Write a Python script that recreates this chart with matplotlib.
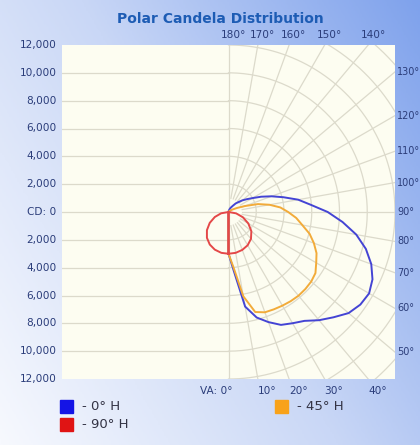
import numpy as np
import matplotlib
matplotlib.use("Agg")
import matplotlib.pyplot as plt
from matplotlib.colors import LinearSegmentedColormap
from matplotlib.patches import Rectangle

# vertical angles (deg from nadir) and candela values
angles = np.arange(0, 185, 5)
cd_0h = [3000, 4200, 6900, 7850, 8420, 8950, 9230, 9550, 10150, 10700,
         11300, 11600, 11700, 11450, 10950, 10250, 9350, 8250, 7150, 5950,
         5100, 4100, 3300, 2600, 2000, 1600, 1300, 1000, 800, 550,
         400, 300, 200, 120, 60, 20, 0]
cd_45h = [3000, 3950, 6150, 7440, 7670, 7720, 7770, 7820, 7850, 7830,
          7780, 7650, 7300, 7000, 6550, 6050, 5400, 4900, 4300, 3750,
          3000, 2200, 1250, 700, 400, 250, 150, 100, 60, 30,
          10, 0, 0, 0, 0, 0, 0]
red_angles = np.arange(0, 100, 10)
cd_90h = [3000, 2980, 2900, 2760, 2520, 2150, 1650, 1100, 560, 0]
cd_270h = [3000, 2980, 2880, 2700, 2420, 2030, 1560, 1050, 540, 0]

cd_ticks = [12000, 10000, 8000, 6000, 4000, 2000, 0, -2000, -4000, -6000, -8000, -10000, -12000]
top_angles = [180, 170, 160, 150, 140]
right_angles = [130, 120, 110, 100, 90, 80, 70, 60, 50]
bottom_angles = [0, 10, 20, 30, 40]

navy = "#2b3d7a"
W, H = 420, 445
fig = plt.figure(figsize=(W / 100, H / 100), dpi=100)

# gradient background
bg = fig.add_axes([0, 0, 1, 1], zorder=-10)
gx, gy = np.meshgrid(np.linspace(0, 1, 200), np.linspace(1, 0, 200))
cmap = LinearSegmentedColormap.from_list("bg", ["#f7f9fe", "#c9d7f6", "#7fa2ec"])
bg.imshow(0.62 * gx + 0.38 * gy, cmap=cmap, aspect="auto", extent=[0, 1, 0, 1])
bg.axis("off")

L, R, T, B = 62, 395, 45, 379
ax = fig.add_axes([L / W, 1 - B / H, (R - L) / W, (B - T) / H])
ax.set_facecolor("#fdfdf1")
ax.set_xlim(-12000, 12000)
ax.set_ylim(-12000, 12000)
for s in ax.spines.values():
    s.set_visible(False)
ax.set_xticks([])
ax.set_yticks([])

grid = dict(color="#dcdacb", lw=0.9, zorder=1)
# left half: horizontal lines
for v in range(-10000, 12000, 2000):
    if v != 0:
        ax.plot([-12000, 0], [v, v], **grid)
ax.plot([0, 0], [-12000, 12000], **grid)
ax.plot([-12000, 0], [0, 0], **grid)
# right half: arcs and radial lines
t = np.radians(np.linspace(0, 180, 200))
for r in range(2000, 18000, 2000):
    ax.plot(r * np.sin(t), -r * np.cos(t), **grid)
for a in range(10, 180, 10):
    ar = np.radians(a)
    ax.plot([1000 * np.sin(ar), 20000 * np.sin(ar)],
            [-1000 * np.cos(ar), -20000 * np.cos(ar)], **grid)


def curve(ang, cd, side=1):
    ar = np.radians(np.asarray(ang, float))
    cd = np.asarray(cd, float)
    x = side * cd * np.sin(ar)
    y = -cd * np.cos(ar)
    return np.append(x, x[0]), np.append(y, y[0])


ax.plot(*curve(angles, cd_0h), color="#4444d4", lw=1.4, zorder=3)
ax.plot(*curve(angles, cd_45h), color="#f2ab3a", lw=1.4, zorder=4)
ax.plot(*curve(red_angles, cd_90h), color="#e44848", lw=1.4, zorder=5)
ax.plot(*curve(red_angles, cd_270h, side=-1), color="#e44848", lw=1.4, zorder=5)

fs = 7.6
for v in cd_ticks:
    lab = "CD: 0" if v == 0 else f"{abs(v):,}"
    ax.text(-12400, v, lab, ha="right", va="center", fontsize=fs, color=navy, clip_on=False)
for a in top_angles:
    x = 12000 * np.tan(np.radians(180 - a))
    ax.text(x + 350, 12350, f"{a}°", ha="center", va="bottom", fontsize=fs, color=navy)
for a in right_angles:
    y = -12000 / np.tan(np.radians(a)) if a != 90 else 0
    ax.text(12150, y, f"{a}°", ha="left", va="center", fontsize=7.0, color=navy)
for a in bottom_angles:
    x = 12000 * np.tan(np.radians(a))
    if a == 0:
        ax.text(300, -12500, "VA: 0°", ha="right", va="top", fontsize=fs, color=navy)
    else:
        ax.text(x, -12500, f"{a}°", ha="left", va="top", fontsize=fs, color=navy)

fig.text(0.524, 1 - 19 / H, "Polar Candela Distribution", ha="center", va="center",
         fontsize=10, fontweight="bold", color="#1d5cb4")

# legend
for (px, py, col, lab) in [(60, 400, "#1414e6", "- 0° H"), (60, 418, "#e01414", "- 90° H"),
                           (275, 400, "#f8a21a", "- 45° H")]:
    fig.patches.append(Rectangle((px / W, 1 - (py + 13) / H), 13 / W, 13 / H,
                                 transform=fig.transFigure, color=col))
    fig.text((px + 22) / W, 1 - (py + 7) / H, lab, ha="left", va="center",
             fontsize=9.5, color="#333344")

fig.savefig("out.png", dpi=100)
